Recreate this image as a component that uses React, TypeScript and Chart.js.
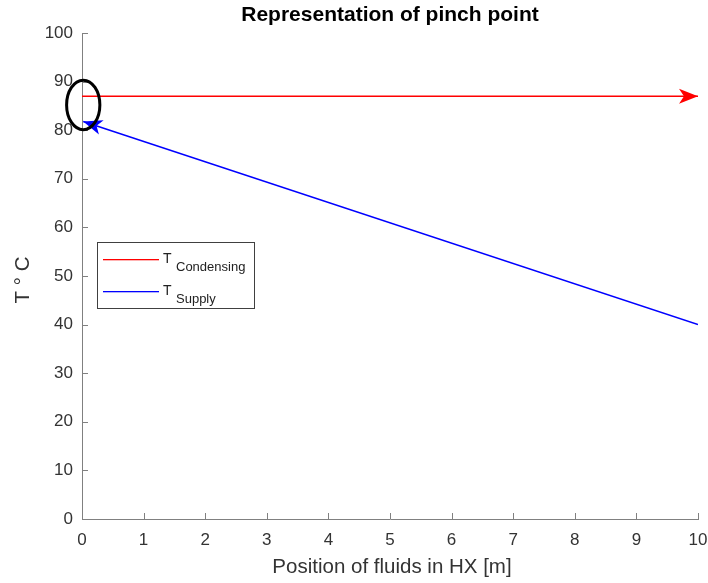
import React, { useEffect, useRef } from 'react';
import { Chart, registerables } from 'chart.js';

Chart.register(...registerables);

const titleText = 'Representation of pinch point';
const xLabel = 'Position of fluids in HX [m]';
const yLabel = 'T \u00B0 C';

const xCondensing = [0, 10];
const tCondensing = [87, 87];
const xSupply = [0.02, 10];
const tSupply = [81.8, 40];

const xTicks = [0, 1, 2, 3, 4, 5, 6, 7, 8, 9, 10];
const yTicks = [0, 10, 20, 30, 40, 50, 60, 70, 80, 90, 100];

const pinchCenter = [0.02, 85.2];
const pinchRadius = [0.27, 5.1];

const legendMain = ['T', 'T'];
const legendSub = ['Condensing', 'Supply'];
const legendColors = ['#ff0000', '#0000ff'];

const FONT = '"Liberation Sans", Arial, Helvetica, sans-serif';
const AXIS = '#808080';
const TEXT = '#333333';

function drawArrowHead(ctx: CanvasRenderingContext2D, tipX: number, tipY: number, fromX: number, fromY: number, color: string) {
  const ang = Math.atan2(tipY - fromY, tipX - fromX);
  const len = 19;
  const half = 7.5;
  const notch = 5;
  ctx.save();
  ctx.translate(tipX, tipY);
  ctx.rotate(ang);
  ctx.beginPath();
  ctx.moveTo(0, 0);
  ctx.lineTo(-len, -half);
  ctx.lineTo(-len + notch, 0);
  ctx.lineTo(-len, half);
  ctx.closePath();
  ctx.fillStyle = color;
  ctx.fill();
  ctx.restore();
}

const overlay = {
  id: 'overlay',
  afterDraw(chart: any) {
    const ctx: CanvasRenderingContext2D = chart.ctx;
    const xs = chart.scales.x;
    const ys = chart.scales.y;
    const area = chart.chartArea;
    ctx.save();

    // inward ticks
    ctx.strokeStyle = AXIS;
    ctx.lineWidth = 1;
    ctx.beginPath();
    for (const t of xTicks) {
      const px = Math.round(xs.getPixelForValue(t)) + 0.5;
      ctx.moveTo(px, area.bottom);
      ctx.lineTo(px, area.bottom - 6);
    }
    for (const t of yTicks) {
      const py = Math.round(ys.getPixelForValue(t)) + 0.5;
      ctx.moveTo(area.left, py);
      ctx.lineTo(area.left + 6, py);
    }
    ctx.stroke();

    // arrow heads
    drawArrowHead(
      ctx,
      xs.getPixelForValue(xCondensing[1]), ys.getPixelForValue(tCondensing[1]),
      xs.getPixelForValue(xCondensing[0]), ys.getPixelForValue(tCondensing[0]),
      '#ff0000'
    );
    drawArrowHead(
      ctx,
      xs.getPixelForValue(xSupply[0]), ys.getPixelForValue(tSupply[0]),
      xs.getPixelForValue(xSupply[1]), ys.getPixelForValue(tSupply[1]),
      '#0000ff'
    );

    // pinch ellipse
    const cx = xs.getPixelForValue(pinchCenter[0]);
    const cy = ys.getPixelForValue(pinchCenter[1]);
    const rx = Math.abs(xs.getPixelForValue(pinchCenter[0] + pinchRadius[0]) - cx);
    const ry = Math.abs(ys.getPixelForValue(pinchCenter[1] + pinchRadius[1]) - cy);
    ctx.beginPath();
    ctx.ellipse(cx, cy, rx, ry, 0, 0, Math.PI * 2);
    ctx.strokeStyle = '#000000';
    ctx.lineWidth = 3;
    ctx.stroke();

    // legend
    const lx = 97, ly = 242, lw = 157, lh = 66;
    ctx.fillStyle = '#ffffff';
    ctx.fillRect(lx, ly, lw, lh);
    ctx.strokeStyle = '#404040';
    ctx.lineWidth = 1;
    ctx.strokeRect(lx + 0.5, ly + 0.5, lw, lh);
    const rowsY = [259, 291];
    legendMain.forEach((main, i) => {
      const y = rowsY[i];
      ctx.fillStyle = legendColors[i];
      ctx.fillRect(103, y, 56, 1.3);
      ctx.fillStyle = '#222222';
      ctx.textAlign = 'left';
      ctx.textBaseline = 'alphabetic';
      ctx.font = `14px ${FONT}`;
      ctx.fillText(main, 163, y + 4);
      ctx.font = `13px ${FONT}`;
      ctx.fillText(legendSub[i], 176, y + 12);
    });

    // title
    ctx.fillStyle = '#000000';
    ctx.font = `bold 21px ${FONT}`;
    ctx.textAlign = 'center';
    ctx.textBaseline = 'middle';
    ctx.fillText(titleText, (area.left + area.right) / 2, 15);

    // x label
    ctx.fillStyle = TEXT;
    ctx.font = `20.5px ${FONT}`;
    ctx.fillText(xLabel, 392, 567);

    // y label
    ctx.save();
    ctx.translate(23, (area.top + area.bottom) / 2 + 4);
    ctx.rotate(-Math.PI / 2);
    ctx.fillText(yLabel, 0, 0);
    ctx.restore();

    ctx.restore();
  },
};

export default function App() {
  const ref = useRef<HTMLCanvasElement | null>(null);
  useEffect(() => {
    document.body.style.margin = '0';
    const canvas = ref.current!;
    const chart = new Chart(canvas, {
      type: 'line',
      data: {
        datasets: [
          {
            label: 'T Condensing',
            data: xCondensing.map((x, i) => ({ x, y: tCondensing[i] })),
            borderColor: '#ff0000',
            borderWidth: 1.5,
            pointRadius: 0,
            fill: false,
          },
          {
            label: 'T Supply',
            data: xSupply.map((x, i) => ({ x, y: tSupply[i] })),
            borderColor: '#0000ff',
            borderWidth: 1.5,
            pointRadius: 0,
            fill: false,
          },
        ],
      },
      options: {
        animation: false,
        responsive: false,
        maintainAspectRatio: false,
        layout: { padding: { top: 33, right: 10, left: 0, bottom: 0 } },
        plugins: { legend: { display: false }, title: { display: false }, tooltip: { enabled: false } },
        scales: {
          x: {
            type: 'linear',
            min: 0,
            max: 10,
            afterBuildTicks: (s: any) => { s.ticks = xTicks.map((v) => ({ value: v })); },
            afterFit: (s: any) => { s.height = 64; s.paddingLeft = 0; s.paddingRight = 0; },
            grid: { drawOnChartArea: false, drawTicks: false, color: 'transparent' },
            border: { display: true, color: AXIS, width: 1 },
            ticks: { color: TEXT, font: { size: 17, family: FONT }, padding: 11, maxRotation: 0, autoSkip: false },
          },
          y: {
            type: 'linear',
            min: 0,
            max: 100,
            afterBuildTicks: (s: any) => { s.ticks = yTicks.map((v) => ({ value: v })); },
            afterFit: (s: any) => { s.width = 82; s.paddingTop = 0; s.paddingBottom = 0; },
            grid: { drawOnChartArea: false, drawTicks: false, color: 'transparent' },
            border: { display: true, color: AXIS, width: 1 },
            ticks: { color: TEXT, font: { size: 17, family: FONT }, padding: 9, autoSkip: false },
          },
        },
      },
      plugins: [overlay],
    } as any);
    return () => chart.destroy();
  }, []);
  return (
    <div style={{ position: 'relative', width: 708, height: 583, background: '#ffffff' }}>
      <canvas ref={ref} width={708} height={583} style={{ display: 'block', width: 708, height: 583 }} />
    </div>
  );
}
